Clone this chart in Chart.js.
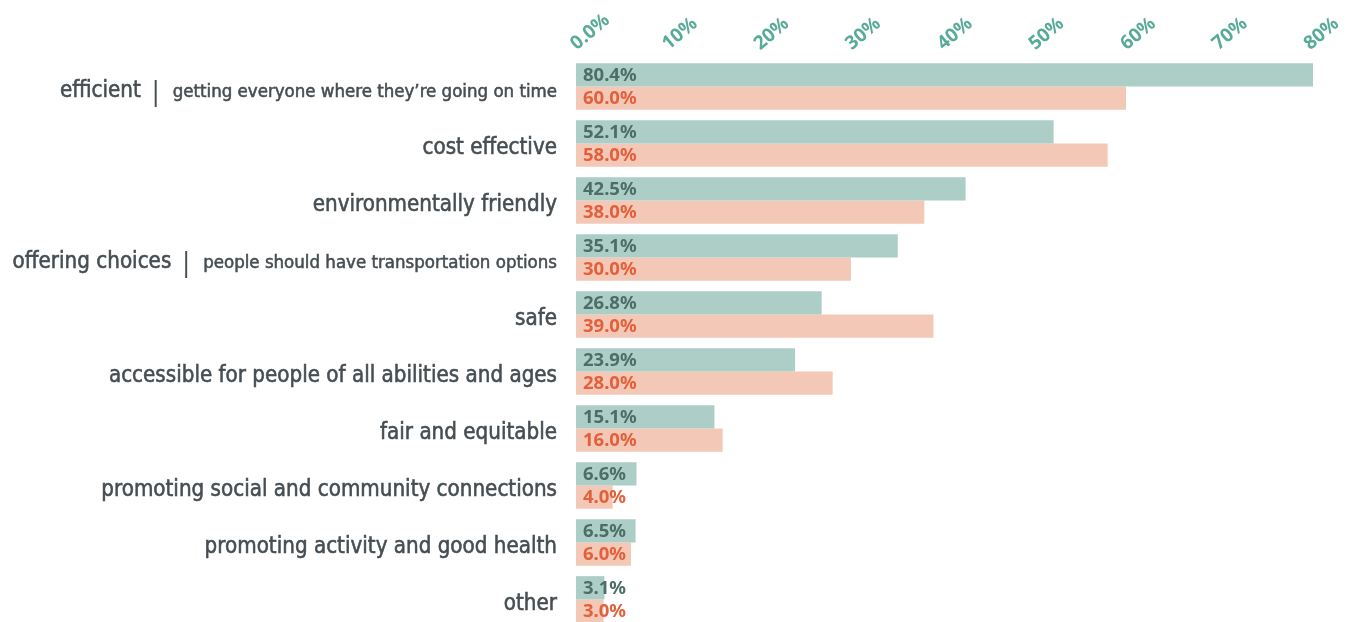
<!DOCTYPE html>
<html>
<head>
<meta charset="utf-8">
<script src="https://cdn.jsdelivr.net/npm/chart.js@4.4.1/dist/chart.umd.min.js"></script>
<style>
  html, body { margin: 0; padding: 0; background: #fff; overflow: hidden; }
  canvas { display: block; }
</style>
</head>
<body>
<canvas id="valuesChart" width="1350" height="628"></canvas>
<script>
// data
const categories = ['efficient', 'cost effective', 'environmentally friendly', 'offering choices', 'safe',
    'accessible for people of all abilities and ages', 'fair and equitable',
    'promoting social and community connections', 'promoting activity and good health', 'other'];
const subtitles = ['getting everyone where they\u2019re going on time', '', '', 'people should have transportation options',
    '', '', '', '', '', ''];
const seriesA = [80.4, 52.1, 42.5, 35.1, 26.8, 23.9, 15.1, 6.6, 6.5, 3.1];
const seriesB = [60.0, 58.0, 38.0, 30.0, 39.0, 28.0, 16.0, 4.0, 6.0, 3.0];
const tickValues = [0, 10, 20, 30, 40, 50, 60, 70, 80];

const LABEL_FONT = '"Liberation Sans Narrow", "DejaVu Sans Condensed", "Roboto", sans-serif';
const VALUE_FONT = '"Noto Sans", "Lato", "DejaVu Sans", sans-serif';

// category names drawn left of the bars (main text + smaller subtitle)
const rowLabels = {
    id: 'rowLabels',
    afterDraw(chart) {
        const ctx = chart.ctx;
        const yScale = chart.scales.y;
        const right = chart.chartArea.left - 19;
        ctx.save();
        ctx.fillStyle = '#464e53';
        ctx.strokeStyle = '#464e53';
        ctx.lineWidth = 0.55;
        ctx.textBaseline = 'alphabetic';
        ctx.textAlign = 'right';
        const put = (txt, x, y) => {
            ctx.fillText(txt, x, y);
            ctx.strokeText(txt, x, y);
        };
        categories.forEach((name, i) => {
            const y = yScale.getPixelForValue(i) + 10;
            let x = right;
            if (subtitles[i]) {
                ctx.font = '18.5px ' + LABEL_FONT;
                put(subtitles[i], x, y);
                x -= ctx.measureText(subtitles[i]).width + 13;
                ctx.font = '26px ' + LABEL_FONT;
                ctx.fillText('|', x, y + 3);
                x -= ctx.measureText('|').width + 11;
            }
            ctx.font = '22.2px ' + LABEL_FONT;
            put(name, x, y);
        });
        ctx.restore();
    }
};

// value labels inside the bars
const valueLabels = {
    id: 'valueLabels',
    afterDatasetsDraw(chart) {
        const ctx = chart.ctx;
        const colors = ['#4d6e66', '#e2603b'];
        ctx.save();
        ctx.font = 'bold 18.5px ' + VALUE_FONT;
        ctx.textBaseline = 'middle';
        ctx.textAlign = 'left';
        chart.data.datasets.forEach((ds, d) => {
            const meta = chart.getDatasetMeta(d);
            ctx.fillStyle = colors[d];
            meta.data.forEach((bar, i) => {
                ctx.fillText(ds.data[i].toFixed(1) + '%', bar.base + 7, bar.y + 1);
            });
        });
        ctx.restore();
    }
};

const ctx = document.getElementById('valuesChart').getContext('2d');

const valuesChart = new Chart(ctx, {
    type: 'bar',
    data: {
        labels: categories,
        datasets: [{
            label: 'A',
            data: seriesA,
            backgroundColor: '#adcec7',
            borderWidth: 0,
            barPercentage: 1.0,
            categoryPercentage: 0.82
        },
        {
            label: 'B',
            data: seriesB,
            backgroundColor: '#f3c8b6',
            borderWidth: 0,
            barPercentage: 1.0,
            categoryPercentage: 0.82
        }]
    },
    options: {
        indexAxis: 'y',
        responsive: false,
        animation: false,
        layout: {
            padding: { left: 0, right: 37, top: 0, bottom: 0 }
        },
        plugins: {
            legend: { display: false },
            tooltip: { enabled: false }
        },
        scales: {
            x: {
                position: 'top',
                min: 0,
                max: 80.4,
                grid: { display: false },
                border: { display: false },
                afterBuildTicks: (scale) => {
                    scale.ticks = tickValues.map(v => ({ value: v }));
                },
                afterFit: (scale) => {
                    scale.height = 58;
                    scale.paddingLeft = 0;
                    scale.paddingRight = 0;
                },
                ticks: {
                    minRotation: 40,
                    maxRotation: 40,
                    padding: -5,
                    labelOffset: 12,
                    color: '#58aa99',
                    font: { family: VALUE_FONT, size: 19, weight: 'bold' },
                    callback: function (value) {
                        return value === 0 ? '0.0%' : value + '%';
                    }
                }
            },
            y: {
                grid: { display: false },
                border: { display: false },
                ticks: { display: false },
                afterFit: (scale) => {
                    scale.width = 576;
                }
            }
        }
    },
    plugins: [rowLabels, valueLabels]
});
</script>
</body>
</html>
